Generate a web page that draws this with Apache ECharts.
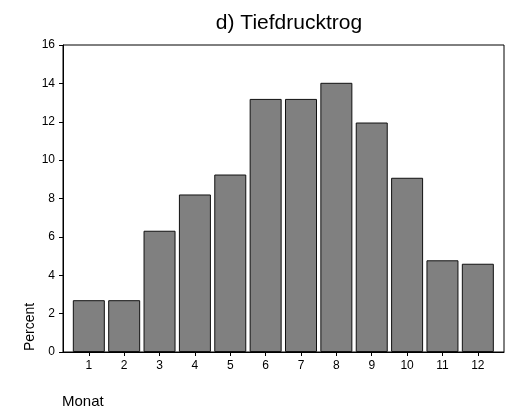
<!DOCTYPE html>
<html>
<head>
<meta charset="utf-8">
<script src="https://cdn.jsdelivr.net/npm/echarts@6/dist/echarts.min.js"></script>
<style>
html,body{margin:0;padding:0;background:#fff;}
#c{width:505px;height:416px;}
</style>
</head>
<body>
<div id="c"></div>
<script>
var months = [1,2,3,4,5,6,7,8,9,10,11,12];
var percent = [2.7,2.7,6.32,8.21,9.25,13.19,13.19,14.03,11.96,9.08,4.78,4.6];
var yTicks = [0,2,4,6,8,10,12,14,16];
var titleText = 'd) Tiefdrucktrog';
var yName = 'Percent';
var xName = 'Monat';

var font = 'Liberation Sans, Arial, sans-serif';
var chart = echarts.init(document.getElementById('c'), null, {renderer:'canvas'});
chart.setOption({
  animation:false,
  backgroundColor:'#fff',
  title:{
    text:titleText, left:284, top:8, textAlign:'center',
    textStyle:{fontFamily:font, fontSize:21, fontWeight:'normal', color:'#000'}
  },
  grid:{left:63, top:45, right:1, bottom:64, show:true, borderColor:'#000', borderWidth:1, backgroundColor:'transparent'},
  xAxis:{
    type:'value', min:0.27, max:12.74,
    axisLine:{show:true, lineStyle:{color:'#000', width:1}},
    axisTick:{show:true, length:4, customValues:months, lineStyle:{color:'#000'}},
    axisLabel:{customValues:months, margin:8, fontFamily:font, fontSize:12, color:'#000'},
    splitLine:{show:false}
  },
  yAxis:{
    type:'value', min:yTicks[0], max:yTicks[yTicks.length-1], interval:2,
    axisLine:{show:true, lineStyle:{color:'#000', width:1}},
    axisTick:{show:true, length:4, lineStyle:{color:'#000'}},
    axisLabel:{margin:8, fontFamily:font, fontSize:12, color:'#000'},
    splitLine:{show:false}
  },
  series:[{
    type:'bar',
    data:months.map(function(m,i){return [m, percent[i]];}),
    barWidth:32,
    itemStyle:{color:'#808080', borderColor:'#111', borderWidth:1}
  }],
  graphic:[
    {type:'text', x:30, y:327, rotation:Math.PI/2,
     style:{text:yName, fontFamily:font, fontSize:14, fill:'#000', align:'center', verticalAlign:'middle'}},
    {type:'text', x:62, y:394,
     style:{text:xName, fontFamily:font, fontSize:15, fill:'#000', align:'left', verticalAlign:'top'}}
  ]
});
</script>
</body>
</html>
